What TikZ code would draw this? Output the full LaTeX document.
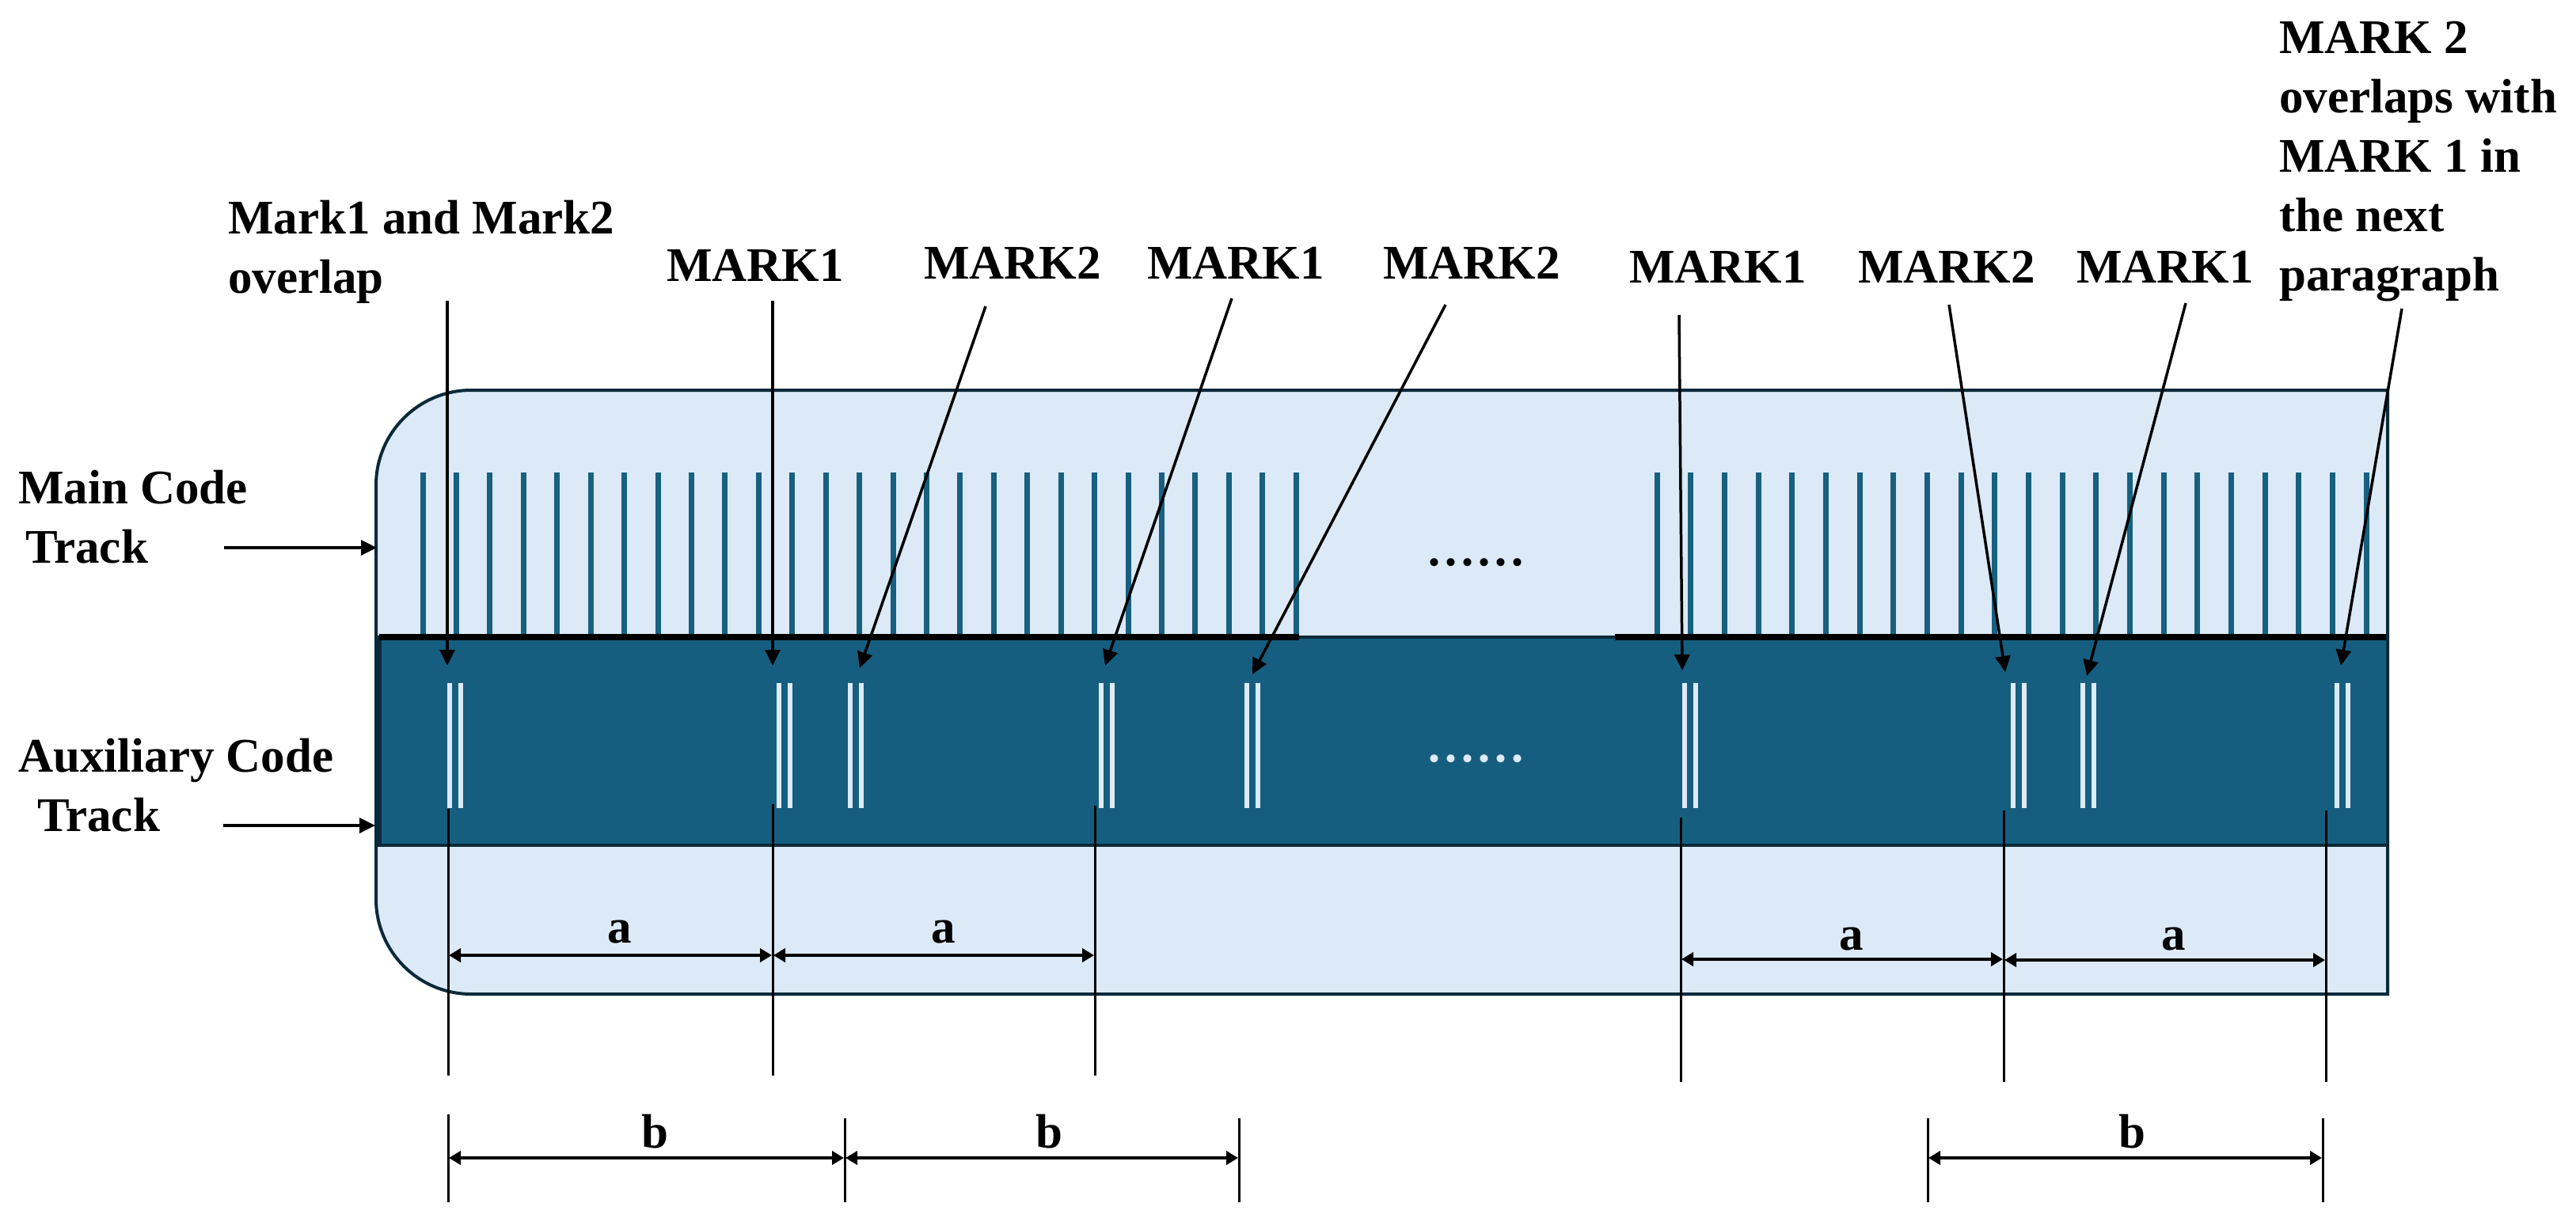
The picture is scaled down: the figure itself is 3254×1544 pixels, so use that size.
\documentclass[tikz,border=0pt]{standalone}
\usepackage{fontspec}
\setmainfont{Liberation Serif}
\usetikzlibrary{arrows.meta}
\definecolor{lightfill}{HTML}{DCE9F6}
\definecolor{darkband}{HTML}{165E80}
\definecolor{navy}{HTML}{0A2A3A}
\definecolor{tickblue}{HTML}{17607F}
\definecolor{markwhite}{HTML}{DDEBF7}
\begin{document}
\begin{tikzpicture}[x=1pt,y=1pt,
  lbl/.style={inner sep=0pt, anchor=base west, font=\fontsize{61}{75}\selectfont\bfseries},
  dimlbl/.style={inner sep=0pt, anchor=base, font=\fontsize{61}{75}\selectfont\bfseries},
  ann/.style={line width=3.5pt, -{Triangle[length=20pt,width=19pt]}},
  dimarrow/.style={line width=4.5pt, {Triangle[length=15pt,width=17pt]}-{Triangle[length=15pt,width=17pt]}},
  ext/.style={line width=3pt},
  tickline/.style={tickblue, line width=7pt},
  wmark/.style={markwhite, line width=6pt}
]
\useasboundingbox (0,0) rectangle (3254,-1544);
\fill[white] (0,0) rectangle (3254,-1544);

% outer light shape
\draw[navy, line width=4pt, fill=lightfill] (3016,-493) -- (595,-493)
  arc[start angle=90,end angle=180,radius=120] -- (475,-1136)
  arc[start angle=180,end angle=270,radius=120] -- (3016,-1256) -- cycle;

% auxiliary dark band
\draw[navy, line width=4pt, fill=darkband] (475,-805) rectangle (3016,-1068);
\draw[navy, line width=9pt] (477.5,-805) -- (477.5,-1068);

% main track ticks
\foreach \i in {0,...,26} \draw[tickline] ({534+42.43*\i},-597) -- ({534+42.43*\i},-805);
\foreach \i in {0,...,21} \draw[tickline] ({2093+42.67*\i},-597) -- ({2093+42.67*\i},-805);

% black separator
\draw[black, line width=8pt] (479,-805) -- (1641,-805);
\draw[black, line width=8pt] (2040,-805) -- (3014,-805);

% auxiliary marks
\foreach \x in {568,984,1074,1391,1575,2128,2543,2631,2952} {
  \draw[wmark] (\x,-863) -- (\x,-1021);
  \draw[wmark] ({\x+13.5},-863) -- ({\x+13.5},-1021);
}

% ellipsis
\node[inner sep=0pt, anchor=base west, font=\fontsize{84}{84}\selectfont] (dotsA) at (1801,-714) {......};
\node[inner sep=0pt, anchor=base west, font=\fontsize{84}{84}\selectfont, text=markwhite] (dotsB) at (1801,-962) {......};

% side labels
\node[lbl] (mainlbl) at (23,-636) {\begin{tabular}[t]{@{}l@{}}Main Code\\\hspace*{9pt}Track\end{tabular}};
\node[lbl] (auxlbl) at (23,-975) {\begin{tabular}[t]{@{}l@{}}Auxiliary Code\\\hspace*{24pt}Track\end{tabular}};
\coordinate (mainS) at (283,-692); \coordinate (mainE) at (476,-692);
\coordinate (auxS) at (282,-1043); \coordinate (auxE) at (474,-1043);
\draw[ann] (mainS) -- (mainE);
\draw[ann] (auxS) -- (auxE);

% top labels
\node[lbl] (t0) at (288,-295) {\begin{tabular}[t]{@{}l@{}}Mark1 and Mark2\\overlap\end{tabular}};
\node[lbl] (t1) at (842,-355) {MARK1};
\node[lbl] (t2) at (1167,-352) {MARK2};
\node[lbl] (t3) at (1449,-352) {MARK1};
\node[lbl] (t4) at (1747,-352) {MARK2};
\node[lbl] (t5) at (2058,-357) {MARK1};
\node[lbl] (t6) at (2347,-357) {MARK2};
\node[lbl] (t7) at (2623,-357) {MARK1};
\node[lbl] (t8) at (2879,-68) {\begin{tabular}[t]{@{}l@{}}MARK 2\\overlaps with\\MARK 1 in\\the next\\paragraph\end{tabular}};

% annotation arrows
\coordinate (s0) at (565,-380);  \coordinate (e0) at (565,-841);
\coordinate (s1) at (976,-380);  \coordinate (e1) at (976,-841);
\coordinate (s2) at (1245,-387); \coordinate (e2) at (1086,-844);
\coordinate (s3) at (1556,-377); \coordinate (e3) at (1396,-841);
\coordinate (s4) at (1826,-385); \coordinate (e4) at (1582,-852);
\coordinate (s5) at (2121,-398); \coordinate (e5) at (2125,-847);
\coordinate (s6) at (2462,-385); \coordinate (e6) at (2533,-849);
\coordinate (s7) at (2761,-383); \coordinate (e7) at (2636,-854);
\coordinate (s8) at (3034,-390); \coordinate (e8) at (2957,-841);
\foreach \k in {0,...,8} \draw[ann] (s\k) -- (e\k);

% extension lines for a
\coordinate (aA1) at (566,-1022);  \coordinate (aA2) at (566,-1359);
\coordinate (aB1) at (976,-1016);  \coordinate (aB2) at (976,-1359);
\coordinate (aC1) at (1383,-1018); \coordinate (aC2) at (1383,-1359);
\coordinate (aD1) at (2123,-1033); \coordinate (aD2) at (2123,-1367);
\coordinate (aE1) at (2531,-1024); \coordinate (aE2) at (2531,-1367);
\coordinate (aF1) at (2938,-1024); \coordinate (aF2) at (2938,-1367);
\foreach \k in {A,B,C,D,E,F} \draw[ext] (a\k1) -- (a\k2);

% extension lines for b
\coordinate (bA1) at (566,-1408);  \coordinate (bA2) at (566,-1519);
\coordinate (bB1) at (1067,-1413); \coordinate (bB2) at (1067,-1519);
\coordinate (bC1) at (1565,-1413); \coordinate (bC2) at (1565,-1519);
\coordinate (bD1) at (2435,-1413); \coordinate (bD2) at (2435,-1519);
\coordinate (bE1) at (2934,-1413); \coordinate (bE2) at (2934,-1519);
\foreach \k in {A,B,C,D,E} \draw[ext] (b\k1) -- (b\k2);

% dimension arrows a
\coordinate (da1) at (567,-1207);  \coordinate (da2) at (975,-1207);
\coordinate (da3) at (977,-1207);  \coordinate (da4) at (1382,-1207);
\coordinate (da5) at (2124,-1212); \coordinate (da6) at (2530,-1212);
\coordinate (da7) at (2532,-1213); \coordinate (da8) at (2937,-1213);
\draw[dimarrow] (da1) -- (da2);
\draw[dimarrow] (da3) -- (da4);
\draw[dimarrow] (da5) -- (da6);
\draw[dimarrow] (da7) -- (da8);
\node[dimlbl] (la1) at (783,-1191) {a};
\node[dimlbl] (la2) at (1192,-1191) {a};
\node[dimlbl] (la3) at (2339,-1200) {a};
\node[dimlbl] (la4) at (2746,-1200) {a};

% dimension arrows b
\coordinate (db1) at (567,-1463);  \coordinate (db2) at (1066,-1463);
\coordinate (db3) at (1068,-1463); \coordinate (db4) at (1564,-1463);
\coordinate (db5) at (2436,-1463); \coordinate (db6) at (2933,-1463);
\draw[dimarrow] (db1) -- (db2);
\draw[dimarrow] (db3) -- (db4);
\draw[dimarrow] (db5) -- (db6);
\node[dimlbl] (lb1) at (827,-1450) {b};
\node[dimlbl] (lb2) at (1325,-1450) {b};
\node[dimlbl] (lb3) at (2693,-1450) {b};
\end{tikzpicture}
\end{document}
